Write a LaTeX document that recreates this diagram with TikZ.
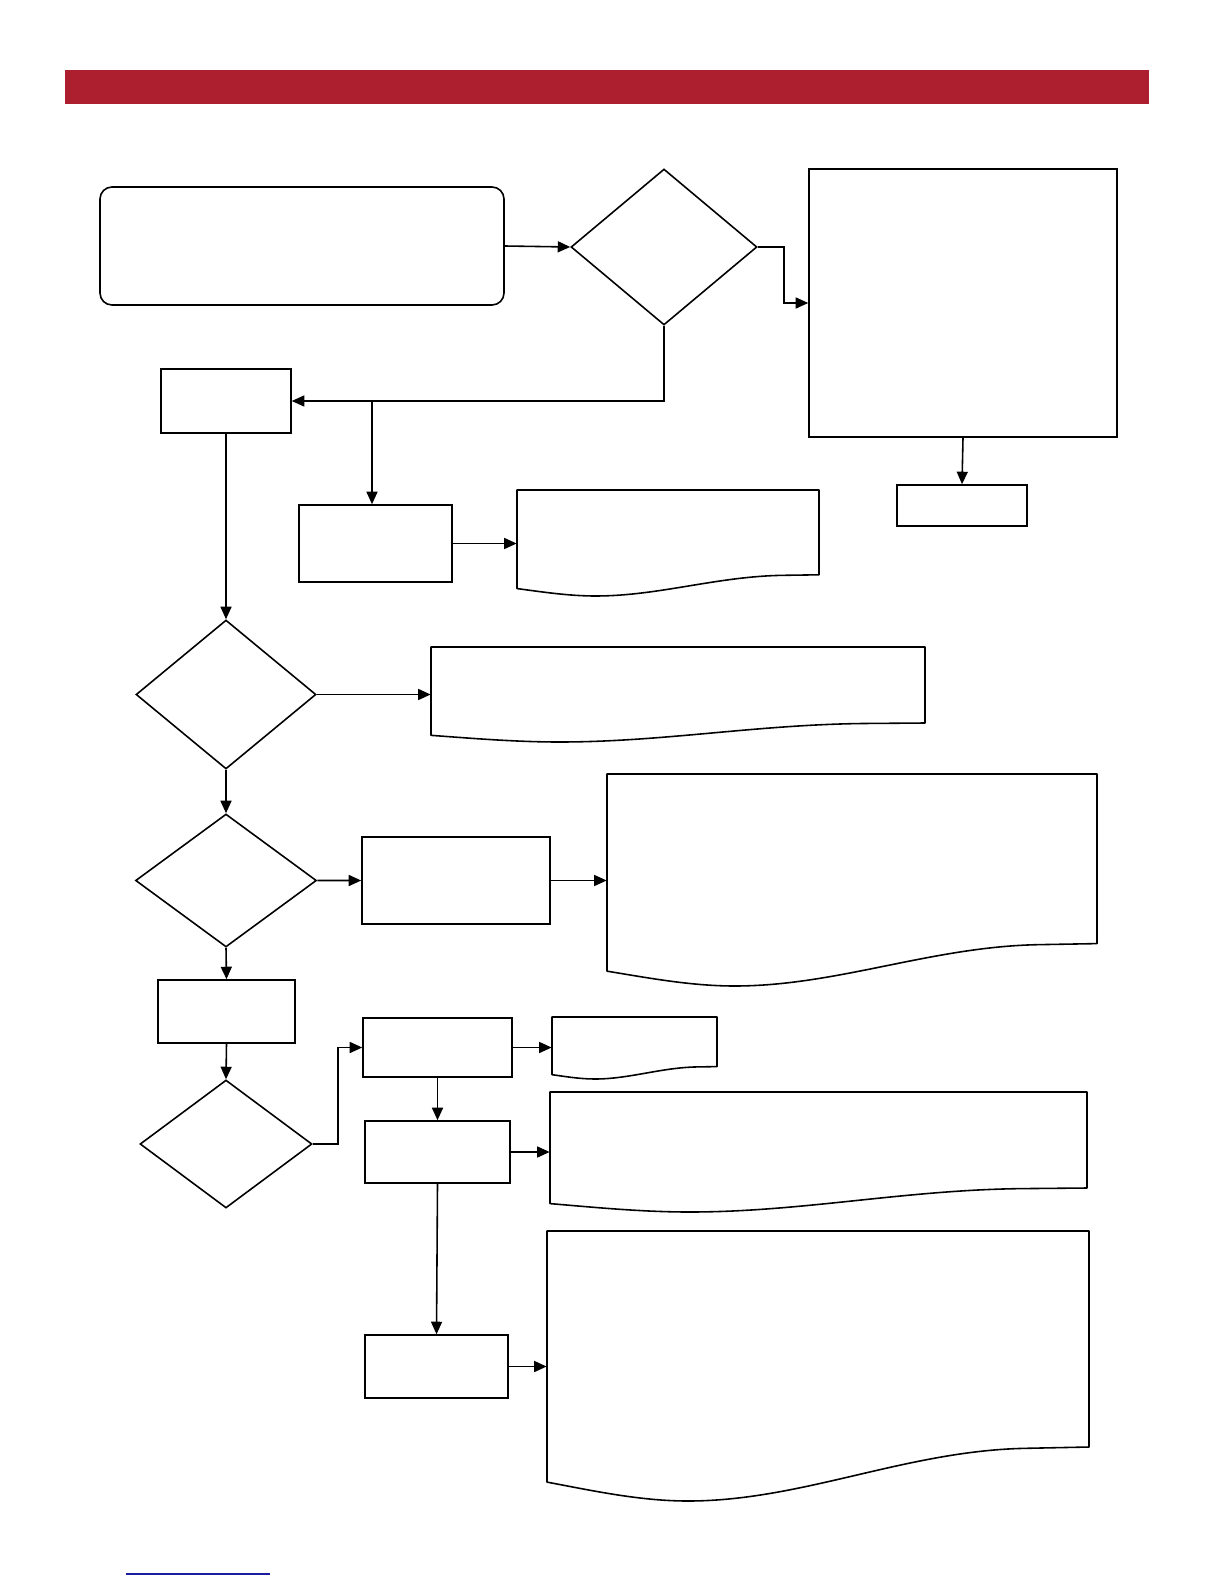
\documentclass[tikz,border=0pt]{standalone}
\usetikzlibrary{shapes.geometric,arrows.meta,fit,calc}
\definecolor{barred}{HTML}{AD1F2E}
\definecolor{linkblue}{HTML}{1C1CA0}
\tikzset{
  shp/.style={draw=black, line width=0.9pt, inner sep=0pt},
  docst/.style={inner sep=0pt, rectangle},
  arr/.style={line width=0.9pt, -{Triangle[length=0.25cm,width=0.22cm]}},
  conn/.style={line width=0.9pt}
}
% name, left, top, right, bottom (lowest point of wave), in px
\newcommand{\wavedoc}[5]{%
  \node[docst, fit={(#2,#3) (#4,#5)}] (#1) {};
  \pgfmathsetmacro\dW{#4-#2}\pgfmathsetmacro\dH{#5-#3}%
  \draw[shp, line join=round] (#2,#3) -- (#4,#3) -- (#4,{#5-0.2*\dH})
    -- ({#4-0.12*\dW},{#5-0.195*\dH})
    .. controls ({#4-0.34*\dW},{#5-0.185*\dH}) and ({#2+0.47*\dW},{#5}) .. ({#2+0.26*\dW},{#5})
    .. controls ({#2+0.17*\dW},{#5}) and ({#2+0.08*\dW},{#5-0.04*\dH}) .. (#2,{#5-0.07*\dH})
    -- cycle;}
\begin{document}
\begin{tikzpicture}[x=0.02cm,y=-0.02cm]
\useasboundingbox (0,0) rectangle (1224,1584);
% header bar and footer link line
\node[fill=barred, inner sep=0pt, fit={(65,70) (1149,104)}] (bar) {};
\draw[linkblue, line width=0.8pt] (126,1574) -- (270,1574);

% top row
\node[shp, rounded corners=0.24cm, fit={(100,187) (504,305)}] (a) {};
\node[shp, diamond, minimum width=3.72cm, minimum height=3.12cm] (d1) at (664,247) {};
\node[shp, fit={(809,169) (1117,437)}] (r1) {};
\node[shp, fit={(897,485) (1027,526)}] (s1) {};

\node[shp, fit={(161,369) (291,433)}] (b1) {};
\node[shp, fit={(299,505) (452,582)}] (b2) {};
\wavedoc{doc1}{517}{490}{819}{596}

% second diamond
\node[shp, diamond, minimum width=3.6cm, minimum height=2.98cm] (d2) at (226,694.5) {};
\wavedoc{doc2}{431}{647}{925}{742}

% third diamond
\node[shp, diamond, minimum width=3.62cm, minimum height=2.66cm] (d3) at (226,880.5) {};
\node[shp, fit={(362,837) (550,924)}] (b3) {};
\wavedoc{doc3}{607}{774}{1097}{986}

\node[shp, fit={(158,980) (295,1043)}] (b4) {};
\node[shp, diamond, minimum width=3.44cm, minimum height=2.56cm] (d4) at (226,1144) {};
\node[shp, fit={(363,1018) (512,1077)}] (b5) {};
\wavedoc{doc4}{552}{1017}{717}{1079}
\node[shp, fit={(365,1121) (510,1183)}] (b6) {};
\wavedoc{doc5}{550}{1092}{1087}{1212}
\node[shp, fit={(365,1335) (508,1398)}] (b7) {};
\wavedoc{doc6}{547}{1231}{1089}{1501}

% connectors
\draw[arr] (a.east) -- (d1.west);
\draw[arr] (d1.east) -- ++(26,0) |- (r1.west);
\draw[arr] (r1.south) -- (s1.north);
\draw[arr] (d1.south) |- (b1.east);
\coordinate (j1) at (372,0 |- b1.east);
\draw[arr] (j1) -- (j1 |- b2.north);
\draw[arr] (b2.east) -- (b2.east -| doc1.west);
\draw[arr] (b1.south) -- (d2.north);
\draw[arr] (d2.east) -- (d2.east -| doc2.west);
\draw[arr] (d2.south) -- (d3.north);
\draw[arr] (d3.east) -- (b3.west);
\draw[arr] (b3.east) -- (b3.east -| doc3.west);
\draw[arr] (d3.south) -- (b4.north);
\draw[arr] (b4.south) -- (d4.north);
\draw[arr] (d4.east) -- ++(25,0) |- (b5.west);
\draw[arr] (b5.east) -- (b5.east -| doc4.west);
\draw[arr] (b5.south) -- (b6.north);
\draw[arr] (b6.east) -- (b6.east -| doc5.west);
\draw[arr] (b6.south) -- (b7.north);
\draw[arr] (b7.east) -- (b7.east -| doc6.west);
\end{tikzpicture}
\end{document}
